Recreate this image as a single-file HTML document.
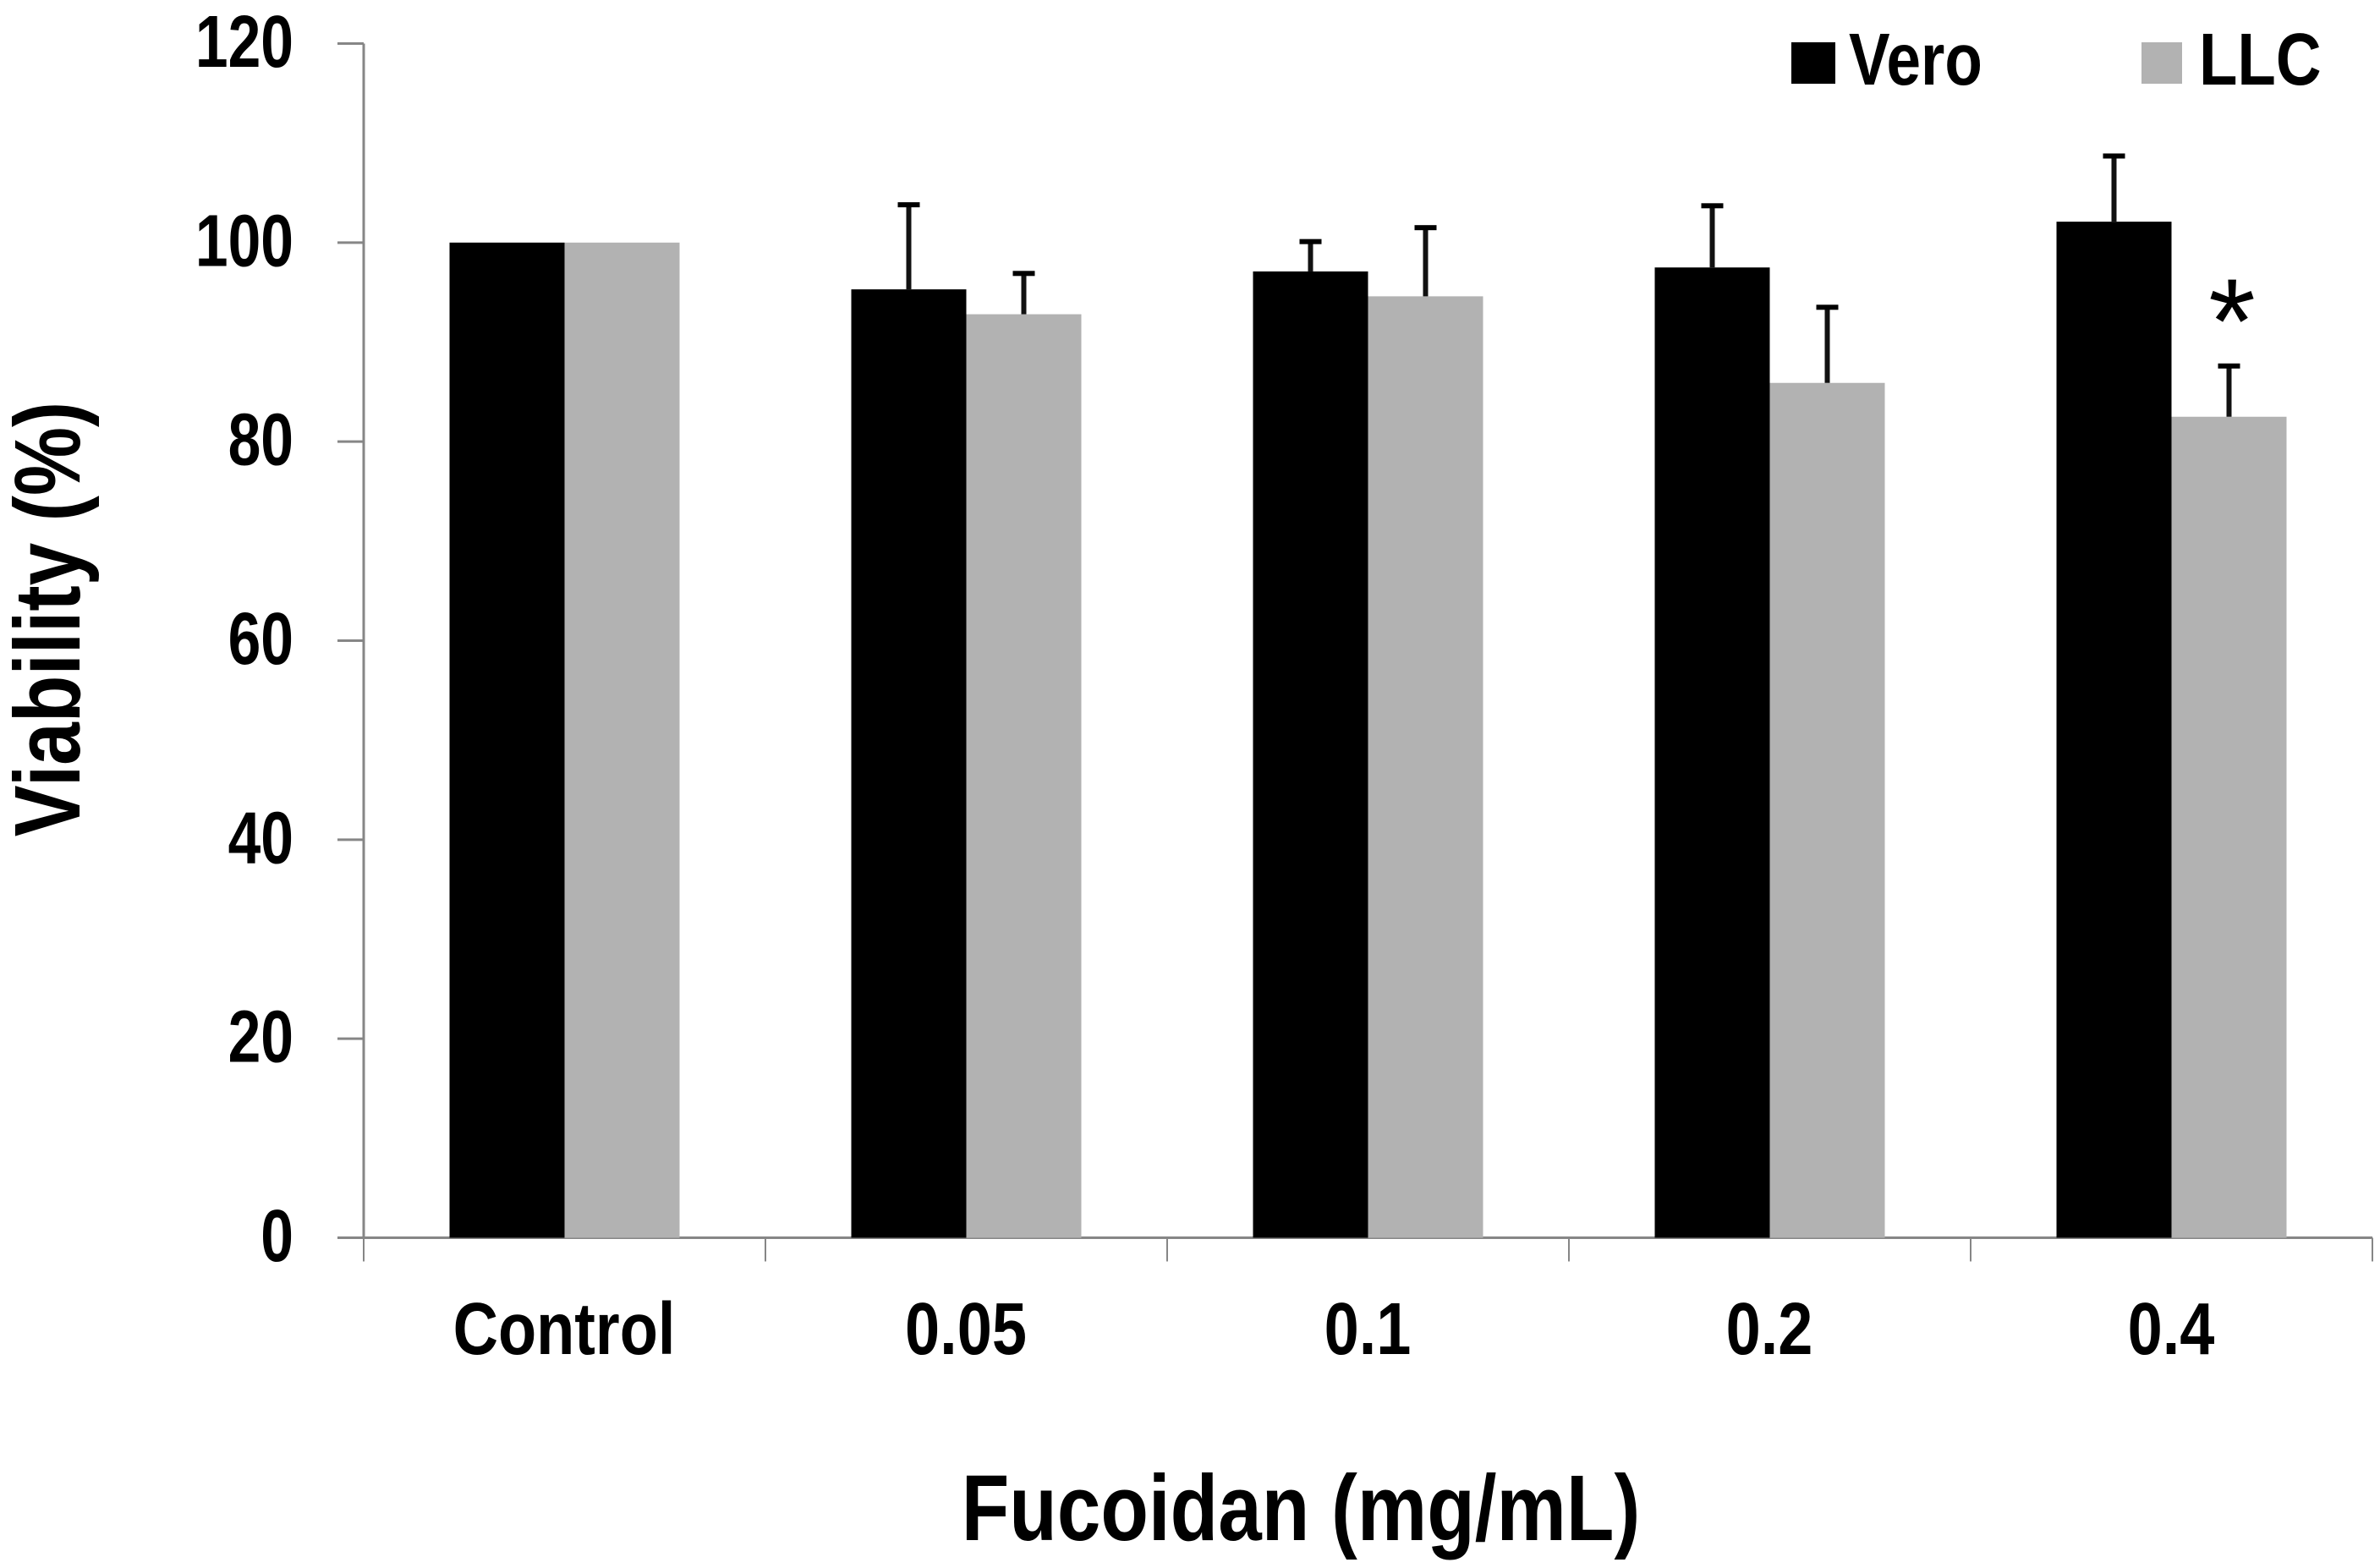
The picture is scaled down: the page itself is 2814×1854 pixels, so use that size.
<!DOCTYPE html>
<html lang="en">
<head>
<meta charset="utf-8">
<title>Viability vs Fucoidan</title>
<style>
html,body{margin:0;padding:0;background:#fff;width:2814px;height:1854px;overflow:hidden}
svg{display:block}
text{font-family:"Liberation Sans",Arial,sans-serif;font-weight:700;fill:#000}
</style>
</head>
<body>
<svg id="chart" xmlns="http://www.w3.org/2000/svg" width="2814" height="1854" viewBox="0 0 2814 1854">
<rect x="0" y="0" width="2814" height="1854" fill="#fff"/>
<g id="axes"></g>
<g id="bars"></g>
<g id="errors"></g>
<g id="labels"></g>
<text transform="translate(1538,1821) scale(0.842,1)" text-anchor="middle" font-size="110">Fucoidan (mg/mL)</text>
<text transform="translate(94,732) rotate(-90) scale(0.828,1)" text-anchor="middle" font-size="110">Viability (%)</text>
<rect x="2118" y="50" width="52" height="49" fill="#000"/>
<text transform="translate(2186,100) scale(0.837,1)" font-size="87">Vero</text>
<rect x="2532" y="50" width="48" height="49" fill="#b2b2b2"/>
<text transform="translate(2600,100) scale(0.855,1)" font-size="87">LLC</text>
<text x="2639" y="429" text-anchor="middle" font-size="143" style="font-weight:400">*</text>
</svg>
<script>
const categories = ['Control', '0.05', '0.1', '0.2', '0.4'];
const veroValues = [100, 95.3, 97.1, 97.5, 102.1];
const llcValues = [100, 92.8, 94.6, 85.9, 82.5];
const veroErrors = [0, 8.5, 3.0, 6.2, 6.6];
const llcErrors = [0, 4.1, 6.9, 7.6, 5.1];
const yTicks = [0, 20, 40, 60, 80, 100, 120];

const NS = 'http://www.w3.org/2000/svg';
const plotLeft = 430, plotRight = 2805, plotBottom = 1463.5, plotTop = 51.5;
const yMax = 120;
const band = (plotRight - plotLeft) / categories.length;
const barWidth = 136, barOffset = 101.5;

function yScale(v) { return plotBottom - (v / yMax) * (plotBottom - plotTop); }
function xBand(i) { return plotLeft + band * i; }
function make(parent, tag, attrs) {
  const el = document.createElementNS(NS, tag);
  for (const k in attrs) el.setAttribute(k, attrs[k]);
  parent.appendChild(el);
  return el;
}

const axes = document.getElementById('axes');
const bars = document.getElementById('bars');
const errors = document.getElementById('errors');
const labels = document.getElementById('labels');
const axisColor = '#868686';

const yAxis = make(axes, 'line', {x1: plotLeft, x2: plotLeft, y1: plotTop, y2: plotBottom, stroke: axisColor, 'stroke-width': 3});



yTicks.forEach(function (t) {
  const y = yScale(t);
  const tick = make(axes, 'line', {x1: plotLeft - 31, x2: plotLeft, y1: y, y2: y, stroke: axisColor, 'stroke-width': 3});
  
  
  const label = make(labels, 'text', {transform: 'translate(347,' + (y + 27.5) + ') scale(0.8,1)', 'text-anchor': 'end', 'font-size': 87});
  label.textContent = String(t);
  
  
});

for (let i = 0; i <= categories.length; i++) {
  const x = xBand(i);
  const tick = make(axes, 'line', {x1: x, x2: x, y1: plotBottom, y2: 1491.5, stroke: axisColor, 'stroke-width': 2});
  
  
}

function drawError(cx, value, err) {
  if (!err) return;
  const top = yScale(value + err);
  const stem = make(errors, 'rect', {x: cx - 3, y: top, width: 6, height: yScale(value) - top, fill: '#111'});
  
  
  const cap = make(errors, 'rect', {x: cx - 13, y: top - 3, width: 26, height: 6, fill: '#000'});
  
  
}

categories.forEach(function (c, i) {
  const x0 = xBand(i) + barOffset;
  const veroTop = yScale(veroValues[i]);
  const vero = make(bars, 'rect', {x: x0, y: veroTop, width: barWidth, height: plotBottom - veroTop, fill: '#000'});
  
  
  const llcTop = yScale(llcValues[i]);
  const llc = make(bars, 'rect', {x: x0 + barWidth, y: llcTop, width: barWidth, height: plotBottom - llcTop, fill: '#b2b2b2'});
  
  
  drawError(x0 + barWidth / 2, veroValues[i], veroErrors[i]);
  drawError(x0 + barWidth * 1.5, llcValues[i], llcErrors[i]);
  const label = make(labels, 'text', {transform: 'translate(' + (xBand(i) + 237) + ',1601) scale(0.85,1)', 'text-anchor': 'middle', 'font-size': 87});
  label.textContent = c;
  
  
});

const xAxis = make(axes, 'line', {x1: plotLeft - 31, x2: plotRight, y1: plotBottom, y2: plotBottom, stroke: axisColor, 'stroke-width': 3});


</script>
</body>
</html>
